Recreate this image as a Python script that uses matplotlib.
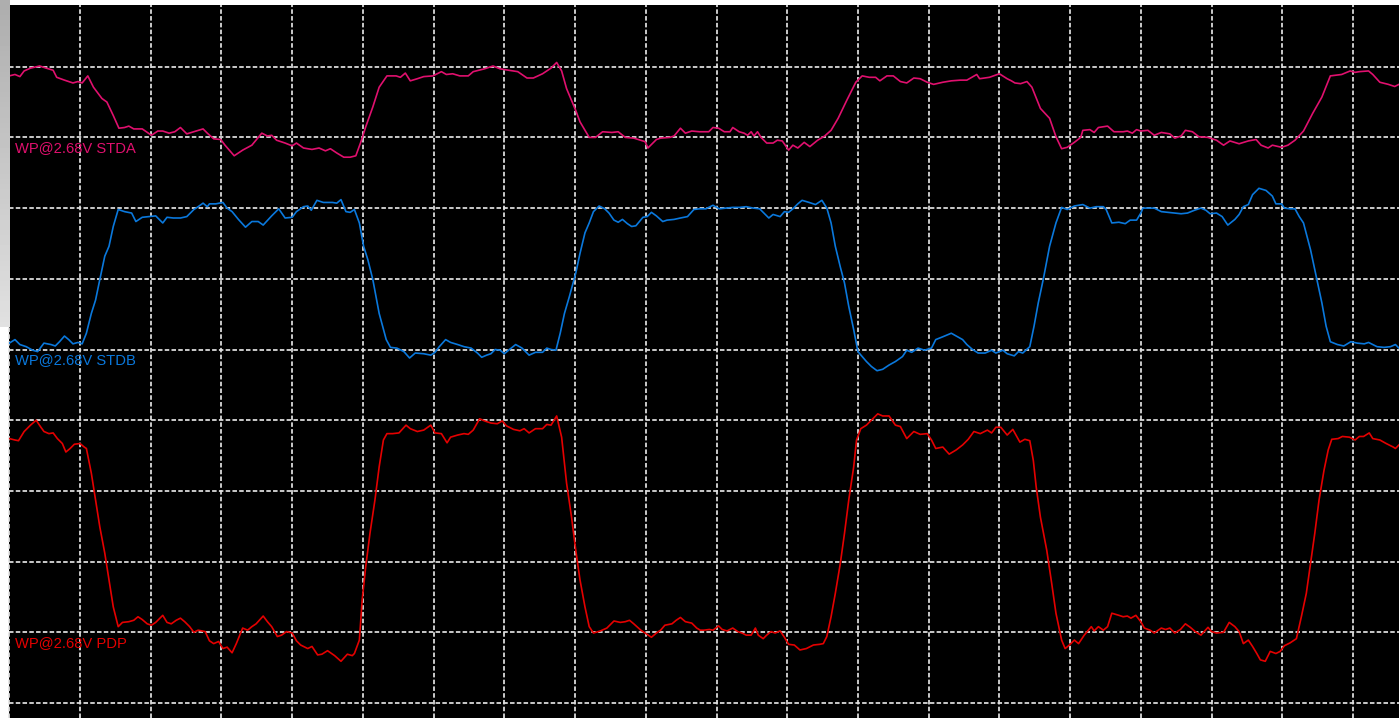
import matplotlib
matplotlib.use('Agg')
import matplotlib.pyplot as plt
import numpy as np

# Scope capture: time and amplitude both in screen divisions
# (x = 0 is the left graticule line, y = 0 the lowest horizontal line)

stda_t = [0.00, 0.08, 0.15, 0.21, 0.30, 0.43, 0.52, 0.62, 0.67, 0.78, 0.90, 0.97, 1.03, 1.11, 1.19,
          1.31, 1.38, 1.47, 1.55, 1.63, 1.69, 1.76, 1.88, 2.01, 2.10, 2.17, 2.26, 2.34, 2.42, 2.51,
          2.61, 2.74, 2.80, 2.89, 2.99, 3.05, 3.18, 3.30, 3.43, 3.57, 3.65, 3.71, 3.78, 3.90, 4.00,
          4.06, 4.16, 4.28, 4.38, 4.47, 4.54, 4.63, 4.73, 4.82, 4.90, 4.98, 5.04, 5.14, 5.23, 5.34,
          5.47, 5.53, 5.60, 5.67, 5.77, 5.86, 5.99, 6.11, 6.18, 6.27, 6.37, 6.49, 6.56, 6.72, 6.84,
          6.94, 7.06, 7.19, 7.32, 7.41, 7.54, 7.66, 7.74, 7.81, 7.88, 8.01, 8.07, 8.20, 8.29, 8.39,
          8.52, 8.61, 8.71, 8.83, 8.99, 9.03, 9.15, 9.21, 9.34, 9.40, 9.49, 9.56, 9.65, 9.76, 9.89,
          9.95, 10.03, 10.11, 10.19, 10.23, 10.32, 10.39, 10.44, 10.49, 10.53, 10.58, 10.63, 10.71,
          10.80, 10.86, 10.93, 11.02, 11.08, 11.15, 11.24, 11.32, 11.43, 11.53, 11.62, 11.72, 11.84,
          11.97, 12.06, 12.16, 12.25, 12.31, 12.41, 12.50, 12.60, 12.69, 12.79, 12.88, 12.98, 13.07,
          13.20, 13.32, 13.45, 13.54, 13.68, 13.72, 13.86, 14.00, 14.11, 14.17, 14.22, 14.30, 14.39,
          14.46, 14.58, 14.71, 14.80, 14.88, 14.96, 15.06, 15.15, 15.18, 15.28, 15.34, 15.40, 15.53,
          15.62, 15.75, 15.81, 15.88, 15.94, 16.00, 16.10, 16.19, 16.29, 16.41, 16.48, 16.57, 16.63,
          16.73, 16.82, 16.95, 17.07, 17.17, 17.26, 17.39, 17.52, 17.63, 17.70, 17.80, 17.86, 17.99,
          18.08, 18.18, 18.30, 18.43, 18.56, 18.68, 18.84, 18.96, 19.03, 19.09, 19.22, 19.28, 19.38,
          19.50, 19.59, 19.65]
stda_v = [8.87, 8.89, 8.86, 8.94, 8.98, 9.01, 8.98, 8.95, 8.85, 8.81, 8.77, 8.79, 8.77, 8.87, 8.71,
          8.55, 8.50, 8.31, 8.13, 8.14, 8.16, 8.12, 8.12, 8.03, 8.09, 8.09, 8.06, 8.08, 8.14, 8.05,
          8.08, 8.12, 8.06, 7.98, 7.97, 7.89, 7.74, 7.82, 7.89, 8.06, 8.02, 8.03, 7.96, 7.92, 7.88,
          7.92, 7.85, 7.83, 7.85, 7.81, 7.84, 7.78, 7.72, 7.72, 7.74, 7.96, 8.15, 8.43, 8.71, 8.87,
          8.87, 8.85, 8.91, 8.80, 8.83, 8.86, 8.87, 8.93, 8.89, 8.90, 8.87, 8.87, 8.93, 8.97, 9.01,
          8.97, 8.95, 8.93, 8.84, 8.84, 8.90, 8.98, 9.06, 8.94, 8.69, 8.38, 8.22, 8.00, 8.00, 8.08,
          8.07, 8.08, 8.00, 7.99, 7.94, 7.85, 7.97, 7.99, 8.00, 8.02, 8.13, 8.06, 8.09, 8.08, 8.08,
          8.14, 8.13, 8.08, 8.08, 8.14, 8.08, 8.06, 8.03, 8.08, 8.02, 8.08, 8.00, 7.92,
          7.92, 7.96, 7.95, 7.82, 7.89, 7.85, 7.93, 7.87, 7.96, 8.02, 8.10, 8.27, 8.52,
          8.78, 8.87, 8.85, 8.85, 8.80, 8.87, 8.87, 8.79, 8.77, 8.84, 8.83, 8.78, 8.75,
          8.78, 8.80, 8.81, 8.81, 8.89, 8.83, 8.85, 8.90, 8.83, 8.80, 8.77, 8.76, 8.79,
          8.71, 8.41, 8.27, 8.01, 7.84, 7.86, 7.93, 8.00, 8.10, 8.11, 8.07, 8.14, 8.16,
          8.08, 8.08, 8.09, 8.06, 8.11, 8.09, 8.10, 8.03, 8.07, 8.05, 7.99, 8.02, 8.10,
          8.08, 8.01, 8.00, 7.96, 7.89, 7.95, 7.91, 7.95, 7.97, 7.89, 7.85, 7.89, 7.86,
          7.89, 7.96, 8.09, 8.34, 8.57, 8.87, 8.89, 8.94, 8.92, 8.93, 8.94, 8.89, 8.78,
          8.75, 8.72, 8.75]

stdb_t = [0.00, 0.08, 0.15, 0.24, 0.33, 0.40, 0.49, 0.59, 0.65, 0.71, 0.78, 0.84, 0.90, 0.97, 1.03,
          1.09, 1.16, 1.22, 1.28, 1.35, 1.41, 1.47, 1.54, 1.63, 1.73, 1.79, 1.88, 1.98, 2.07, 2.17,
          2.23, 2.32, 2.42, 2.51, 2.61, 2.67, 2.74, 2.80, 2.83, 2.92, 3.02, 3.08, 3.15, 3.24, 3.34,
          3.43, 3.52, 3.59, 3.71, 3.81, 3.90, 4.00, 4.06, 4.16, 4.22, 4.27, 4.35, 4.44, 4.57, 4.63,
          4.69, 4.76, 4.82, 4.88, 4.95, 5.01, 5.07, 5.14, 5.23, 5.33, 5.39, 5.48, 5.58, 5.66, 5.74,
          5.86, 5.96, 6.02, 6.08, 6.17, 6.24, 6.34, 6.43, 6.53, 6.62, 6.68, 6.75, 6.81, 6.87, 6.94,
          7.00, 7.06, 7.16, 7.25, 7.35, 7.44, 7.54, 7.60, 7.66, 7.73, 7.79, 7.85, 7.92, 8.01, 8.07,
          8.14, 8.20, 8.26, 8.34, 8.42, 8.48, 8.55, 8.61, 8.67, 8.74, 8.80, 8.86, 8.96, 9.02, 9.08,
          9.15, 9.24, 9.30, 9.40, 9.49, 9.59, 9.68, 9.76, 9.85, 9.95, 10.04, 10.14, 10.23, 10.33,
          10.42, 10.52, 10.61, 10.67, 10.74, 10.80, 10.90, 10.96, 11.02, 11.08, 11.15, 11.21, 11.31,
          11.40, 11.49, 11.56, 11.62, 11.68, 11.75, 11.81, 11.87, 11.94, 12.00, 12.06, 12.12, 12.19,
          12.27, 12.35, 12.44, 12.53, 12.63, 12.69, 12.76, 12.85, 12.94, 13.04, 13.10, 13.20, 13.32,
          13.39, 13.48, 13.54, 13.62, 13.70, 13.80, 13.89, 13.95, 14.05, 14.11, 14.21, 14.27, 14.33,
          14.43, 14.49, 14.55, 14.62, 14.71, 14.80, 14.88, 14.96, 15.06, 15.18, 15.28, 15.37, 15.47,
          15.51, 15.59, 15.69, 15.78, 15.85, 15.94, 16.00, 16.03, 16.19, 16.29, 16.38, 16.48, 16.57,
          16.66, 16.76, 16.85, 16.92, 16.98, 17.07, 17.15, 17.23, 17.33, 17.39, 17.45, 17.52, 17.58,
          17.67, 17.77, 17.86, 17.91, 17.99, 18.03, 18.11, 18.18, 18.24, 18.30, 18.40, 18.49, 18.56,
          18.62, 18.68, 18.78, 18.87, 18.97, 19.06, 19.16, 19.22, 19.28, 19.34, 19.44, 19.53, 19.60,
          19.65]
stdb_v = [5.09, 5.14, 5.07, 5.04, 4.99, 4.97, 5.09, 5.07, 5.05, 5.11, 5.19, 5.14, 5.08, 5.10, 5.08,
          5.23, 5.51, 5.70, 5.99, 6.32, 6.46, 6.74, 6.98, 6.95, 6.93, 6.81, 6.87, 6.88, 6.89, 6.79,
          6.87, 6.86, 6.86, 6.88, 6.98, 7.02, 7.07, 7.02, 7.06, 7.06, 7.08, 7.00, 6.95, 6.84, 6.73,
          6.81, 6.81, 6.76, 6.89, 6.99, 6.86, 6.87, 6.95, 7.02, 7.03, 6.97, 7.11, 7.08, 7.08, 7.07,
          7.12, 6.95, 6.94, 6.98, 6.79, 6.46, 6.27, 5.99, 5.51, 5.14, 5.03, 5.02, 4.97, 4.88, 4.95,
          4.94, 4.92, 4.96, 5.04, 5.14, 5.10, 5.07, 5.04, 5.02, 4.95, 4.89, 4.92, 4.94, 5.00, 4.99,
          4.94, 4.99, 5.07, 5.02, 4.92, 4.96, 4.96, 5.02, 5.00, 4.99, 5.23, 5.51, 5.75, 6.08, 6.36,
          6.65, 6.79, 6.95, 7.03, 6.99, 6.93, 6.83, 6.80, 6.84, 6.78, 6.74, 6.75, 6.87, 6.88, 6.94,
          6.89, 6.81, 6.83, 6.84, 6.86, 6.88, 6.98, 6.99, 6.99, 7.04, 6.99, 7.00, 7.01, 7.01,
          7.02, 7.00, 6.99, 6.93, 6.86, 6.91, 6.88, 6.95, 6.94, 6.99, 7.06, 7.11, 7.08,
          7.05, 7.11, 7.00, 6.79, 6.46, 6.17, 5.94, 5.61, 5.28, 4.97, 4.90, 4.83, 4.76,
          4.70, 4.72, 4.78, 4.83, 4.90, 4.99, 4.96, 5.02, 4.99, 5.02, 5.14, 5.18, 5.23,
          5.19, 5.14, 5.07, 5.00, 4.95, 4.95, 4.99, 4.95, 4.99, 4.94, 4.91, 4.97, 4.95,
          5.04, 5.33, 5.66, 5.99, 6.46, 6.79, 7.01, 6.98, 7.03, 7.05, 7.00, 7.02, 7.02,
          6.98, 6.79, 6.80, 6.78, 6.83, 6.83, 6.93, 7.00, 7.00, 6.95, 6.94, 6.93, 6.92,
          6.93, 6.97, 7.00, 6.97, 6.92, 6.93, 6.88, 6.76, 6.84, 6.91, 7.02, 7.05, 7.19,
          7.28, 7.25, 7.17, 7.06, 7.06, 7.00, 6.99, 6.99, 6.88, 6.79, 6.41, 5.99, 5.66,
          5.33, 5.11, 5.07, 5.05, 5.11, 5.09, 5.08, 5.10, 5.07, 5.04, 5.03, 5.04, 5.07,
          5.02]

pdp_t = [0.00, 0.08, 0.13, 0.21, 0.30, 0.38, 0.44, 0.49, 0.56, 0.62, 0.68, 0.75, 0.80, 0.86, 0.92,
         1.00, 1.06, 1.09, 1.16, 1.22, 1.28, 1.35, 1.41, 1.47, 1.54, 1.60, 1.69, 1.76, 1.82, 1.88,
         1.95, 2.01, 2.07, 2.17, 2.23, 2.29, 2.36, 2.42, 2.48, 2.55, 2.61, 2.67, 2.77, 2.83, 2.89,
         2.96, 3.02, 3.08, 3.15, 3.21, 3.30, 3.37, 3.43, 3.49, 3.59, 3.65, 3.71, 3.79, 3.85, 3.92,
         4.00, 4.06, 4.12, 4.22, 4.28, 4.36, 4.42, 4.50, 4.60, 4.69, 4.78, 4.85, 4.88, 4.95, 4.99,
         5.04, 5.10, 5.17, 5.23, 5.29, 5.34, 5.42, 5.51, 5.61, 5.67, 5.77, 5.86, 5.96, 6.02, 6.11,
         6.19, 6.24, 6.34, 6.43, 6.49, 6.56, 6.65, 6.72, 6.81, 6.90, 6.97, 7.03, 7.13, 7.22, 7.28,
         7.35, 7.44, 7.54, 7.60, 7.66, 7.74, 7.81, 7.88, 7.95, 8.01, 8.07, 8.14, 8.20, 8.26, 8.36,
         8.45, 8.55, 8.64, 8.71, 8.77, 8.83, 8.93, 8.99, 9.08, 9.15, 9.21, 9.27, 9.37, 9.43, 9.49,
         9.56, 9.65, 9.72, 9.77, 9.82, 9.90, 9.95, 10.03, 10.08, 10.15, 10.23, 10.30, 10.36, 10.42,
         10.49, 10.55, 10.59, 10.66, 10.71, 10.77, 10.83, 10.90, 10.96, 11.02, 11.10, 11.18, 11.27,
         11.37, 11.46, 11.51, 11.56, 11.62, 11.68, 11.75, 11.81, 11.87, 11.94, 11.98, 12.04, 12.12,
         12.19, 12.28, 12.35, 12.44, 12.53, 12.60, 12.69, 12.79, 12.88, 12.98, 13.04, 13.10, 13.20,
         13.29, 13.39, 13.48, 13.56, 13.64, 13.73, 13.83, 13.89, 13.95, 14.02, 14.11, 14.19, 14.29,
         14.36, 14.43, 14.48, 14.52, 14.58, 14.67, 14.74, 14.80, 14.88, 14.93, 14.99, 15.06, 15.12,
         15.20, 15.30, 15.34, 15.40, 15.47, 15.53, 15.59, 15.69, 15.75, 15.81, 15.86, 15.93, 16.00,
         16.05, 16.13, 16.19, 16.29, 16.35, 16.41, 16.48, 16.56, 16.63, 16.70, 16.77, 16.85, 16.95,
         17.00, 17.07, 17.17, 17.25, 17.33, 17.39, 17.45, 17.52, 17.58, 17.64, 17.69, 17.76, 17.83,
         17.91, 17.97, 18.03, 18.11, 18.20, 18.27, 18.34, 18.40, 18.46, 18.52, 18.59, 18.65, 18.70,
         18.79, 18.85, 18.95, 19.03, 19.09, 19.15, 19.23, 19.28, 19.38, 19.47, 19.57, 19.60, 19.65]
pdp_v = [3.74, 3.72, 3.71, 3.84, 3.93, 4.00, 3.91, 3.84, 3.81, 3.82, 3.74, 3.67, 3.55, 3.60, 3.66,
         3.67, 3.62, 3.60, 3.25, 2.87, 2.49, 2.12, 1.74, 1.36, 1.08, 1.14, 1.15, 1.17, 1.22, 1.18,
         1.12, 1.10, 1.14, 1.24, 1.14, 1.12, 1.17, 1.20, 1.15, 1.08, 1.00, 1.03, 1.01, 0.88, 0.84,
         0.87, 0.77, 0.79, 0.71, 0.84, 1.06, 1.03, 1.08, 1.12, 1.23, 1.15, 1.08, 0.94, 0.96, 1.01,
         0.99, 0.88, 0.82, 0.77, 0.80, 0.68, 0.69, 0.74, 0.67, 0.59, 0.69, 0.67, 0.70, 0.89, 1.46,
         1.93, 2.40, 2.87, 3.34, 3.72, 3.81, 3.81, 3.82, 3.93, 3.88, 3.84, 3.86, 3.93, 3.82, 3.81,
         3.68, 3.76, 3.79, 3.81, 3.80, 3.86, 4.02, 3.99, 3.96, 3.95, 3.99, 3.92, 3.87, 3.85, 3.88,
         3.82, 3.88, 3.88, 3.94, 3.93, 4.06, 3.76, 3.11, 2.63, 2.16, 1.74, 1.36, 1.08, 0.99, 1.02,
         1.06, 1.16, 1.14, 1.15, 1.17, 1.12, 1.03, 0.99, 0.93, 0.99, 1.03, 1.10, 1.12, 1.17, 1.21,
         1.15, 1.13, 1.06, 1.03, 1.03, 1.04, 1.03, 1.09, 1.04, 1.02, 1.06, 1.01, 0.99, 0.96,
         0.96, 1.06, 0.96, 0.91, 0.96, 1.01, 0.99, 1.02, 0.93, 0.83, 0.82, 0.75, 0.77,
         0.82, 0.83, 0.84, 0.94, 1.22, 1.55, 1.97, 2.40, 2.87, 3.34, 3.72, 3.88, 3.93,
         4.00, 4.09, 4.06, 4.06, 3.93, 3.91, 3.74, 3.84, 3.80, 3.81, 3.72, 3.60, 3.62,
         3.52, 3.58, 3.65, 3.73, 3.84, 3.81, 3.86, 3.82, 3.90, 3.90, 3.79, 3.87, 3.69,
         3.73, 3.71, 3.43, 3.06, 2.63, 2.16, 1.69, 1.27, 0.89, 0.77, 0.82, 0.89, 0.84,
         0.96, 1.08, 1.02, 1.08, 1.03, 1.08, 1.27, 1.24, 1.22, 1.23, 1.20, 1.24, 1.15,
         1.06, 1.03, 0.99, 1.06, 1.04, 1.06, 0.99, 1.04, 1.12, 1.07, 1.01, 0.96, 1.07,
         1.01, 0.99, 1.00, 1.14, 1.08, 1.01, 0.84, 0.89, 0.80, 0.70, 0.61, 0.59, 0.73,
         0.70, 0.73, 0.81, 0.85, 0.91, 1.22, 1.55, 1.97, 2.40, 2.87, 3.29, 3.58, 3.73,
         3.74, 3.77, 3.76, 3.72, 3.77, 3.77, 3.82, 3.74, 3.72, 3.67, 3.62, 3.60, 3.65]

labels = ['WP@2.68V STDA', 'WP@2.68V STDB', 'WP@2.68V PDP']
label_lines = [8, 5, 1]  # graticule line each caption hangs under
colors = ['#e0106e', '#0a78dc', '#e40000']

W, H = 1399, 718
fig = plt.figure(figsize=(W / 100, H / 100), dpi=100)
fig.patch.set_facecolor('white')

# plot area: left edge at 9.3 px, top edge at 4.5 px, 70.7 px per division
left = 9.3 / W
ax = fig.add_axes([left, 0, 1 - left, (H - 4.5) / H])
ax.set_facecolor('black')
ax.set_xlim(0, (W - 9.3) / 70.72)
ax.set_ylim(-15 / 70.7, (703 - 4.5) / 70.7)
ax.set_xticks([])
ax.set_yticks([])
for s in ax.spines.values():
    s.set_visible(False)

grid_kw = dict(color='#e2e2e2', lw=1.25, linestyle=(0, (2.6, 1.3)), zorder=1, clip_on=False)
for k in range(20):
    ax.axvline(k, **grid_kw)
for j in range(10):
    ax.axhline(j, **grid_kw)

for t, v, c in [(stda_t, stda_v, colors[0]), (stdb_t, stdb_v, colors[1]), (pdp_t, pdp_v, colors[2])]:
    ax.plot(t, v, color=c, lw=1.2, zorder=3)

for lab, lvl, c in zip(labels, label_lines, colors):
    ax.text(0.08, lvl - 0.055, lab, color=c, fontsize=10.6, family='Liberation Sans',
            va='top', ha='left', zorder=4)

# grey window-frame strip down the left edge
strip = fig.add_axes([0, 1 - 327 / H, left, 327 / H])
shade = np.linspace(0.68, 0.88, 64).reshape(-1, 1)
strip.imshow(shade, cmap='gray', vmin=0, vmax=1, aspect='auto')
strip.set_axis_off()

fig.savefig('out.png', dpi=100, facecolor='white')
